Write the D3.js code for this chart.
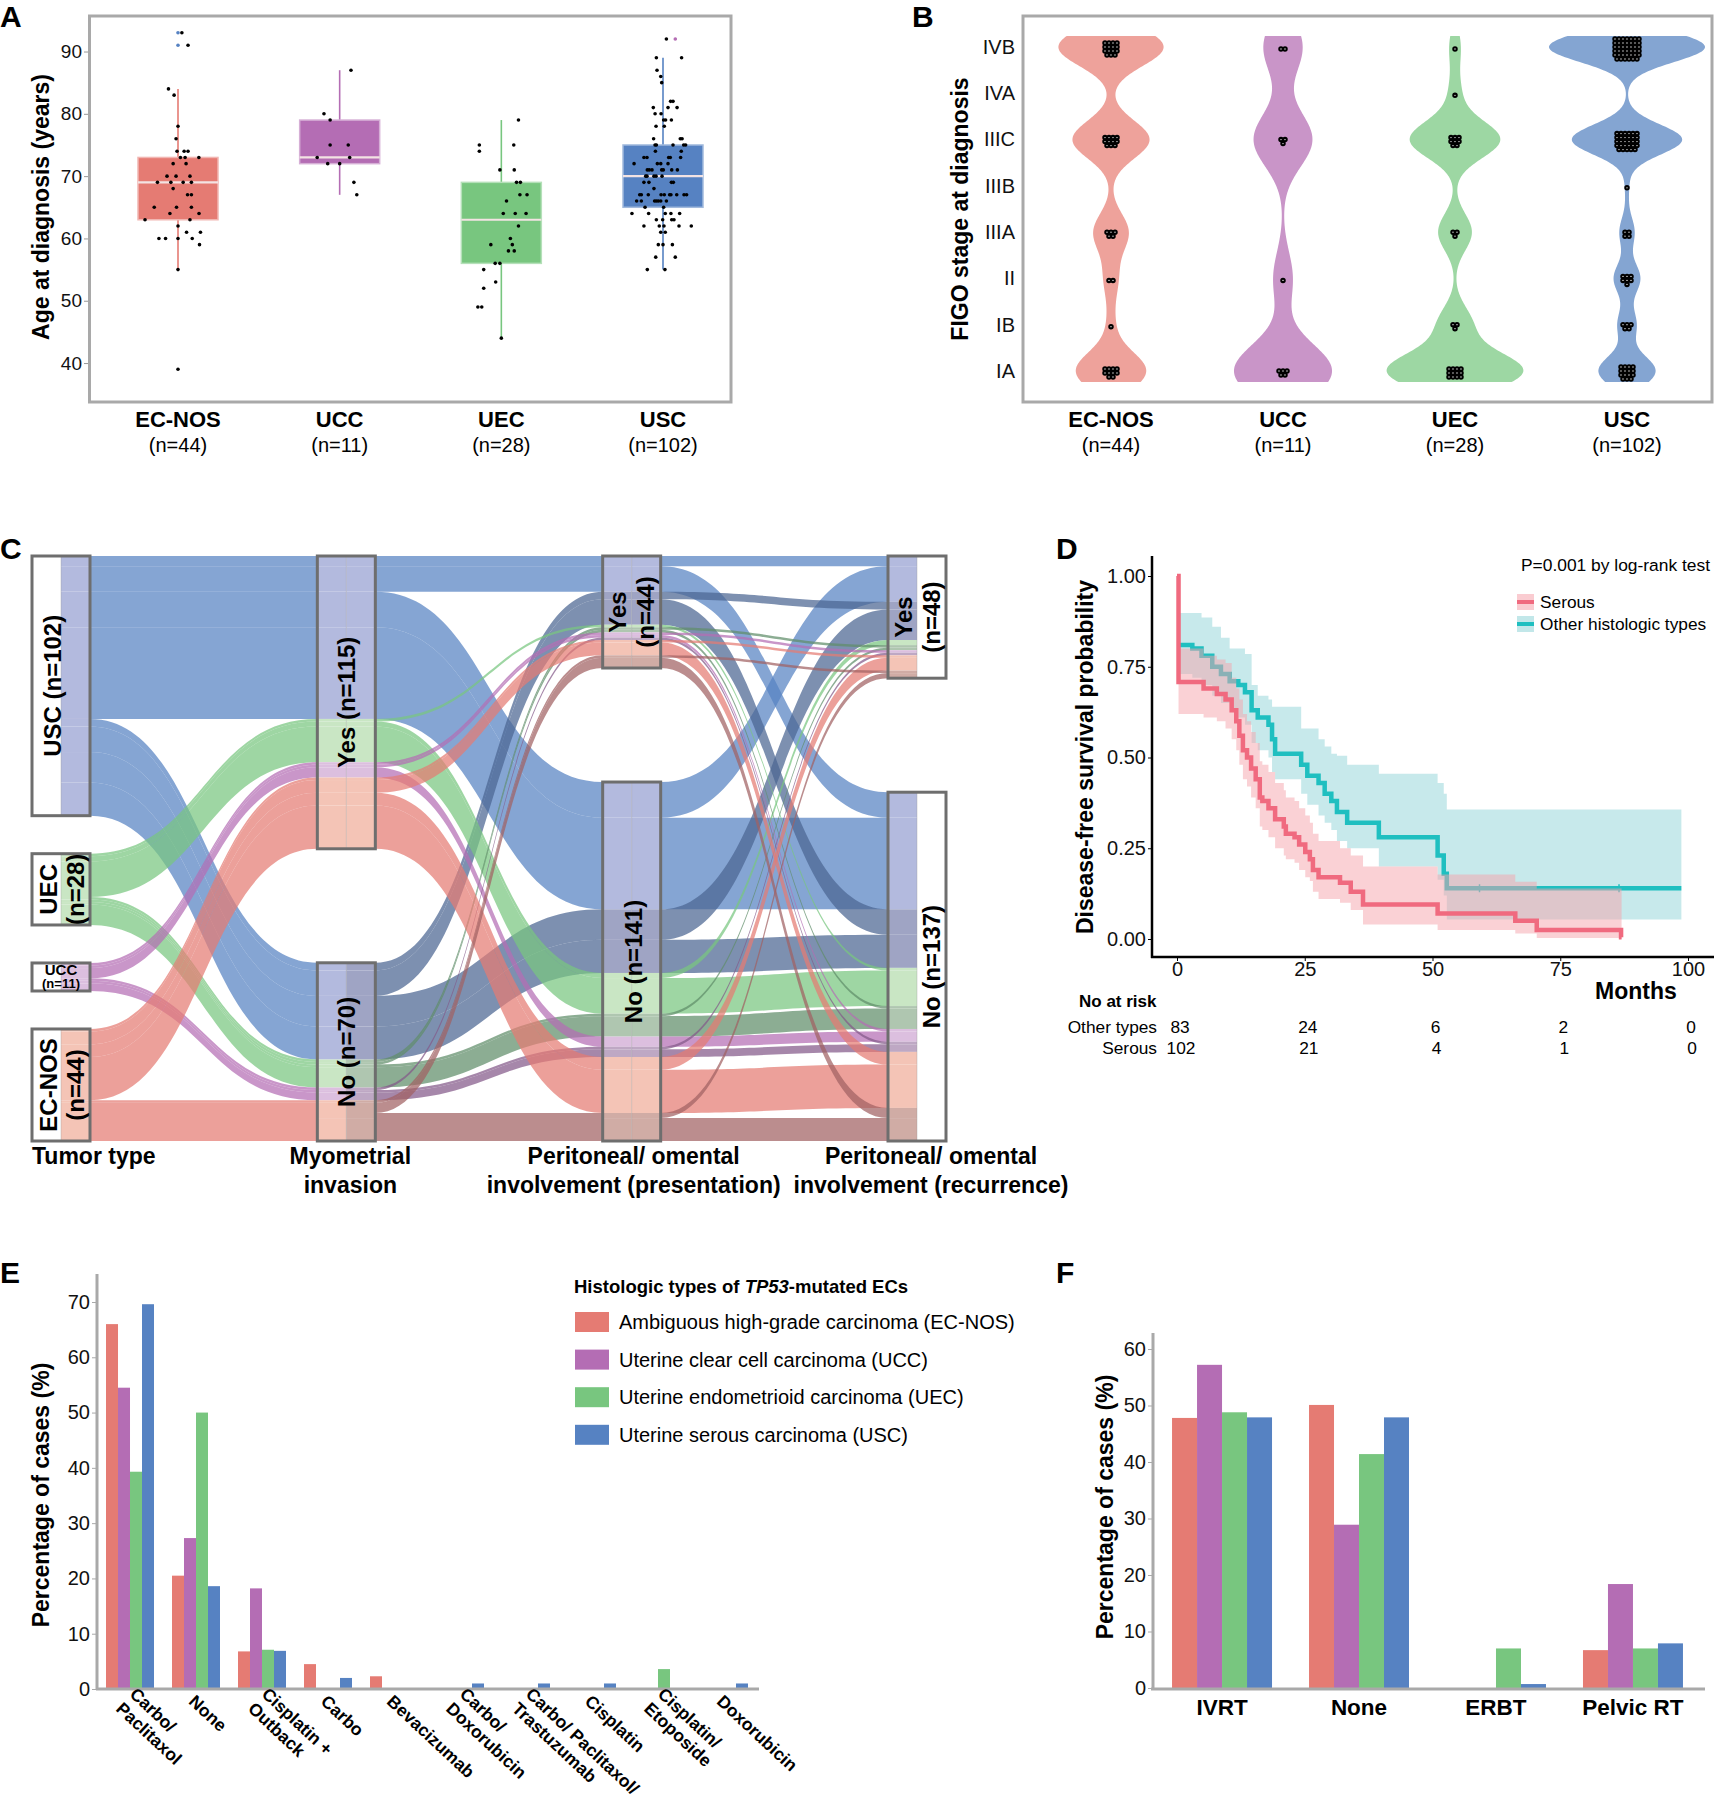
<!DOCTYPE html>
<html>
<head>
<meta charset="utf-8">
<title>TP53-mutated endometrial carcinomas</title>
<script src="https://cdn.jsdelivr.net/npm/d3@7/dist/d3.min.js"></script>
<style>
  html,body{margin:0;padding:0;background:#fff;}
  svg text{font-family:"Liberation Sans",Arial,Helvetica,sans-serif;}
</style>
</head>
<body>
<svg id="fig" width="1714" height="1800" xmlns="http://www.w3.org/2000/svg"></svg>
<script>
// ================= DATA =================
const tumorTypes = ["EC-NOS","UCC","UEC","USC"];
const tumorN = [44,11,28,102];

// ---- Panel A: age at diagnosis ----
const ageTicks = [40,50,60,70,80,90];
// [lower whisker, Q1, median, Q3, upper whisker]
const ageBoxStats = [[55,63,69,73,84],[67,72,73,79,87],[44,56,63,69,79],[55,65,70,75,89]];
// [age, horizontal jitter in category units]
const agePointsECNOS = [[93,0.024],[91,0.062],[84,-0.059],[83,-0.024],[78,0],[76,-0.012],[74,-0.006],[74,0.038],[74,0.062],[73,0.015],[73,0.044],[73,0.129],[72,-0.03],[72,0.05],[70,-0.068],[70,-0.012],[70,0.074],[69,-0.127],[69,-0.044],[69,0.032],[69,0.083],[68,-0.03],[67,0.059],[67,0.083],[65,-0.147],[65,-0.009],[65,0.083],[64,-0.05],[64,0.13],[63,-0.204],[63,0.074],[62,0],[61,0.053],[61,0.139],[60,-0.118],[60,-0.077],[60,0],[60,0.088],[59,0.133],[55,0],[39,0]];
const agePointsUCC = [[87,0.07],[80,-0.097],[79,-0.059],[75,-0.059],[75,0.053],[73,-0.139],[73,0.062],[72,-0.074],[72,0],[69,0.088],[67,0.106]];
const agePointsUEC = [[79,0.106],[75,-0.136],[75,0.077],[74,-0.136],[71,-0.009],[71,0.08],[69,0.094],[69,0.118],[67,0.115],[67,0.159],[66,0.032],[64,0.012],[64,0.086],[64,0.153],[62,0.106],[60,0.056],[59,-0.065],[59,0.068],[58,0.044],[58,0.08],[56,-0.038],[56,-0.009],[55,-0.109],[53,-0.035],[52,-0.109],[49,-0.145],[49,-0.121],[44,0]];
const agePointsUSC = [[92,0.021],[89,-0.041],[89,0.115],[87,-0.037],[86,-0.014],[85,-0.008],[82,0.047],[82,0.062],[81,-0.06],[81,0.031],[81,0.087],[80,-0.049],[80,-0.012],[79,0.004],[79,0.016],[79,0.052],[78,-0.043],[78,0.008],[76,-0.058],[76,0.107],[76,0.118],[75,-0.049],[75,-0.041],[75,0.062],[75,0.128],[75,0.14],[74,-0.047],[74,0.113],[73,-0.118],[73,-0.099],[73,0.035],[73,0.045],[73,0.109],[72,-0.179],[72,-0.035],[72,-0.014],[72,0.031],[71,-0.097],[71,-0.085],[71,-0.068],[71,-0.008],[71,0.002],[71,0.054],[71,0.089],[70,-0.107],[70,-0.099],[70,-0.056],[70,-0.043],[70,-0.006],[69,-0.118],[69,-0.087],[69,0.052],[69,0.064],[68,-0.056],[67,-0.144],[67,-0.134],[67,-0.091],[67,-0.012],[67,0.008],[67,0.041],[67,0.049],[67,0.085],[67,0.13],[67,0.146],[66,-0.163],[66,-0.134],[66,-0.052],[66,-0.041],[66,-0.029],[66,-0.014],[66,0.021],[65,-0.111],[65,0.004],[64,-0.192],[64,-0.089],[64,0.014],[64,0.049],[64,0.103],[63,-0.041],[63,-0.002],[63,0.054],[63,0.068],[62,-0.118],[62,-0.023],[62,0.006],[62,0.099],[62,0.175],[61,-0.014],[61,0.014],[59,-0.029],[59,0],[59,0.058],[57,-0.045],[57,0.076],[55,-0.097],[55,0.012]];
// outlier markers [category index, age, jitter]
const ageOutliers = [[0,93,0],[0,91,0],[3,92,0.076]];
const ageOutlierTypes = ["USC","USC","UCC"];

// ---- Panel B: FIGO stage ----
const figoStages = ["IA","IB","II","IIIA","IIIB","IIIC","IVA","IVB"];
const figoCountsECNOS = [10,1,2,5,0,11,0,15];
const figoCountsUCC   = [5,0,1,0,0,3,0,2];
const figoCountsUEC   = [12,3,0,3,0,8,1,1];
const figoCountsUSC   = [15,5,7,4,1,29,0,41];

// ---- Panel C: alluvial ----
const sankeyTumorOrder = ["USC","UEC","UCC","EC-NOS"];
const yesNo = ["Yes","No"];
const alluvTumor = ["USC","USC","USC","USC","USC","USC","USC","USC","UEC","UEC","UEC","UEC","UEC","UEC","UEC","UEC","UCC","UCC","UCC","UCC","UCC","UCC","UCC","UCC","EC-NOS","EC-NOS","EC-NOS","EC-NOS","EC-NOS","EC-NOS","EC-NOS","EC-NOS"];
const alluvMyo  = ["Yes","Yes","Yes","Yes","No","No","No","No","Yes","Yes","Yes","Yes","No","No","No","No","Yes","Yes","Yes","Yes","No","No","No","No","Yes","Yes","Yes","Yes","No","No","No","No"];
const alluvPres = ["Yes","Yes","No","No","Yes","Yes","No","No","Yes","Yes","No","No","Yes","Yes","No","No","Yes","Yes","No","No","Yes","Yes","No","No","Yes","Yes","No","No","Yes","Yes","No","No"];
const alluvRec  = ["Yes","No","Yes","No","Yes","No","Yes","No","Yes","No","Yes","No","Yes","No","Yes","No","Yes","No","Yes","No","Yes","No","Yes","No","Yes","No","Yes","No","Yes","No","Yes","No"];
const alluvCount = [4,10,14,36,3,10,12,13, 0,1,2,14,1,1,1,8, 1,1,0,4,0,1,1,3, 1,5,5,17,1,4,2,9];
const sankeyAxisTitles = [["Tumor type"],["Myometrial","invasion"],["Peritoneal/ omental","involvement (presentation)"],["Peritoneal/ omental","involvement (recurrence)"]];

// ---- Panel D: Kaplan-Meier ----
const serousTime  = [0,0.3,5.2,7.8,9.5,10.7,11.6,12.2,12.9,13.7,14.5,15.4,16.2,16.7,17.9,19.2,20.9,21.3,23.0,23.9,25.1,26.0,26.6,27.7,31.9,34.0,36.4,51.0,66.2,70.4,86.9];
const serousSurv  = [1.0,0.708,0.69,0.675,0.66,0.63,0.60,0.56,0.52,0.50,0.47,0.44,0.39,0.38,0.36,0.33,0.31,0.29,0.28,0.26,0.24,0.22,0.19,0.17,0.155,0.13,0.095,0.07,0.05,0.025,0.005];
const serousLower = [1.0,0.62,0.61,0.60,0.58,0.55,0.52,0.48,0.44,0.42,0.39,0.36,0.31,0.30,0.28,0.25,0.23,0.22,0.21,0.19,0.17,0.16,0.13,0.11,0.10,0.08,0.04,0.025,0.015,0.003,0.0];
const serousUpper = [1.0,0.80,0.78,0.77,0.76,0.72,0.69,0.66,0.62,0.60,0.57,0.54,0.49,0.48,0.46,0.43,0.41,0.39,0.38,0.36,0.34,0.32,0.29,0.27,0.25,0.23,0.20,0.178,0.158,0.139,0.139];
const serousEnd = 87;
const otherTime  = [0.5,3.0,4.8,6.9,8.6,10.3,12.0,13.3,14.6,15.8,17.9,18.6,19.2,24.3,25.5,27.7,28.9,30.2,31.3,33.3,39.5,51.0,52.2,52.8];
const otherSurv  = [0.81,0.80,0.78,0.75,0.73,0.71,0.70,0.68,0.63,0.61,0.59,0.55,0.51,0.48,0.45,0.43,0.40,0.38,0.35,0.32,0.28,0.23,0.18,0.14];
const otherLower = [0.73,0.72,0.70,0.67,0.65,0.63,0.61,0.59,0.54,0.52,0.50,0.46,0.44,0.40,0.37,0.34,0.32,0.30,0.27,0.25,0.20,0.163,0.12,0.054];
const otherUpper = [0.898,0.898,0.886,0.86,0.83,0.80,0.80,0.785,0.70,0.67,0.66,0.64,0.64,0.58,0.58,0.55,0.53,0.51,0.505,0.48,0.455,0.43,0.40,0.357];
const otherEnd = 98.7;
const otherCensor = [59.2,86.5];
const kmTicksX = [0,25,50,75,100];
const kmTicksY = [0,0.25,0.5,0.75,1];
const riskTimes = [0,25,50,75,100];
const riskOther = [83,24,6,2,0];
const riskSerous = [102,21,4,1,0];

// ---- Panel E: chemotherapy ----
const treatmentLabels = [["Carbo/","Paclitaxol"],["None"],["Cisplatin +","Outback"],["Carbo"],["Bevacizumab"],["Carbo/","Doxorubicin"],["Carbo/ Paclitaxol/","Trastuzumab"],["Cisplatin"],["Cisplatin/","Etoposide"],["Doxorubicin"]];
const chemoECNOS = [66.0,20.5,6.8,4.5,2.3,0,0,0,0,0];
const chemoUCC   = [54.5,27.3,18.2,0,0,0,0,0,0,0];
const chemoUEC   = [39.3,50.0,7.1,0,0,0,0,0,3.6,0];
const chemoUSC   = [69.6,18.6,6.9,2.0,0,1.0,1.0,1.0,0,1.0];
const chemoTicks = [0,10,20,30,40,50,60,70];
const legendNames = ["Ambiguous high-grade carcinoma (EC-NOS)","Uterine clear cell carcinoma (UCC)","Uterine endometrioid carcinoma (UEC)","Uterine serous carcinoma (USC)"];

// ---- Panel F: radiation ----
const radiationTypes = ["IVRT","None","ERBT","Pelvic RT"];
const radECNOS = [47.8,50.1,0,6.7];
const radUCC   = [57.2,28.9,0,18.4];
const radUEC   = [48.8,41.4,7.0,7.0];
const radUSC   = [47.9,47.9,0.7,7.9];
const radTicks = [0,10,20,30,40,50,60];

// ================= STYLE =================
const FONT = '"Liberation Sans",Arial,Helvetica,sans-serif';
const tumorColor = {"EC-NOS":"#e57b73","UCC":"#b46db4","UEC":"#78c67f","USC":"#5682c2"};
const lodeColor  = {"EC-NOS":"#f4c4b6","UCC":"#dcbfdf","UEC":"#c9e6c4","USC":"#b3bade"};
const violinColor = {"EC-NOS":"#eea29b","UCC":"#c995c8","UEC":"#9dd7a3","USC":"#84a5d2"};

const svg = d3.select("#fig");

function styleAxis(g, fs, lineColor){
  g.attr("font-size", fs).attr("font-family", FONT);
  g.selectAll("text").attr("fill","#111");
  g.selectAll("line").attr("stroke", lineColor);
  g.select(".domain").remove();
}
function panelLabel(t,x,y){
  svg.append("text").attr("x",x).attr("y",y).attr("font-size",30).attr("font-weight","bold").attr("fill","#000").text(t);
}
function rotLabel(g,text,x,y,fs,bold){
  g.append("text").attr("transform",`translate(${x},${y}) rotate(-90)`).attr("text-anchor","middle")
   .attr("dominant-baseline","central").attr("font-size",fs).attr("font-weight",bold?"bold":"normal").text(text);
}

// ================= PANEL A =================
(function(){
  const g = svg.append("g");
  const yA = d3.scaleLinear().domain([33.75,95.7]).range([402,16]);
  const xA = d3.scalePoint().domain(tumorTypes).range([178,663]);
  const step = xA.step();
  g.append("rect").attr("x",89.5).attr("y",16).attr("width",641.5).attr("height",386)
   .attr("fill","none").attr("stroke","#a9a9a9").attr("stroke-width",3);
  const ax = g.append("g").attr("transform","translate(88,0)")
    .call(d3.axisLeft(yA).tickValues(ageTicks).tickSize(4).tickPadding(2));
  styleAxis(ax,19,"#999");
  const pts = [agePointsECNOS,agePointsUCC,agePointsUEC,agePointsUSC];
  tumorTypes.forEach((t,i)=>{
    const cx = xA(t), st = ageBoxStats[i], c = tumorColor[t];
    g.append("line").attr("x1",cx).attr("x2",cx).attr("y1",yA(st[0])).attr("y2",yA(st[4]))
     .attr("stroke",c).attr("stroke-width",1.6);
    g.append("rect").attr("x",cx-40).attr("width",80).attr("y",yA(st[3])).attr("height",yA(st[1])-yA(st[3]))
     .attr("fill",c).attr("stroke",d3.interpolateRgb(c,"#fff")(0.45)).attr("stroke-width",1.5);
    g.append("line").attr("x1",cx-40).attr("x2",cx+40).attr("y1",yA(st[2])).attr("y2",yA(st[2]))
     .attr("stroke","#f3e3e3").attr("stroke-width",2.2);
    g.selectAll(null).data(pts[i]).enter().append("circle")
     .attr("cx",d=>cx+d[1]*step).attr("cy",d=>yA(d[0])).attr("r",1.8).attr("fill","#000");
    g.append("text").attr("x",cx).attr("y",427).attr("text-anchor","middle").attr("font-size",22).attr("font-weight","bold").text(t);
    g.append("text").attr("x",cx).attr("y",452).attr("text-anchor","middle").attr("font-size",20).text(`(n=${tumorN[i]})`);
  });
  ageOutliers.forEach((o,j)=>{
    g.append("circle").attr("cx",xA(tumorTypes[o[0]])+o[2]*step).attr("cy",yA(o[1])).attr("r",1.8)
     .attr("fill",tumorColor[ageOutlierTypes[j]]);
  });
  rotLabel(g,"Age at diagnosis (years)",41,207,23,true);
  panelLabel("A",0,27);
})();

// ================= PANEL B =================
(function(){
  const g = svg.append("g");
  const yB = d3.scaleLinear().domain([0,7]).range([371,47]);
  const xB = d3.scalePoint().domain(tumorTypes).range([1111,1627]);
  g.append("rect").attr("x",1023).attr("y",16).attr("width",689).attr("height",386)
   .attr("fill","none").attr("stroke","#a9a9a9").attr("stroke-width",3);
  const ax = g.append("g").attr("transform","translate(1023,0)")
    .call(d3.axisLeft(yB).tickValues(d3.range(8)).tickFormat(i=>figoStages[i]).tickSize(0).tickPadding(8));
  styleAxis(ax,20,"#999");
  const counts = [figoCountsECNOS,figoCountsUCC,figoCountsUEC,figoCountsUSC];
  const grid = d3.range(-0.24,7.2401,0.02);
  const dens = counts.map(cnt=>{
    const vals = [];
    cnt.forEach((c,i)=>{ for(let k=0;k<c;k++) vals.push(i); });
    const n = vals.length;
    const sorted = vals.slice().sort(d3.ascending);
    const iqr = d3.quantile(sorted,0.75)-d3.quantile(sorted,0.25);
    const sd = d3.deviation(vals);
    const h = 0.9*Math.min(sd, iqr/1.34)*Math.pow(n,-0.2)*0.35;
    return grid.map(y=>[y, d3.sum(vals,v=>Math.exp(-0.5*((y-v)/h)**2))/(n*h*Math.sqrt(2*Math.PI))]);
  });
  const maxD = d3.max(dens, d=>d3.max(d,e=>e[1]));
  const wScale = d3.scaleLinear().domain([0,maxD]).range([0,78]);
  tumorTypes.forEach((t,i)=>{
    const cx = xB(t);
    const area = d3.area().x0(d=>cx-wScale(d[1])).x1(d=>cx+wScale(d[1])).y(d=>yB(d[0])).curve(d3.curveLinear);
    g.append("path").attr("d",area(dens[i])).attr("fill",violinColor[t]);
    // dot clusters
    const sp = 4.0;
    counts[i].forEach((c,si)=>{
      if(!c) return;
      const cols = Math.ceil(Math.sqrt(c)), rows = Math.ceil(c/cols);
      for(let k=0;k<c;k++){
        const r = Math.floor(k/cols);
        const inRow = (r===rows-1) ? c-r*cols : cols;
        const col = k - r*cols;
        const x = cx + (col-(inRow-1)/2)*sp;
        const y = yB(si) + (r-(rows-1)/2)*sp + 2;
        g.append("circle").attr("cx",x).attr("cy",y).attr("r",1.7).attr("fill","#fff").attr("stroke","#000").attr("stroke-width",2.1);
      }
    });
    g.append("text").attr("x",cx).attr("y",427).attr("text-anchor","middle").attr("font-size",22).attr("font-weight","bold").text(t);
    g.append("text").attr("x",cx).attr("y",452).attr("text-anchor","middle").attr("font-size",20).text(`(n=${tumorN[i]})`);
  });
  rotLabel(g,"FIGO stage at diagnosis",960,209,23,true);
  panelLabel("B",912,27);
})();

// ================= PANEL C =================
(function(){
  const g = svg.append("g");
  const axes = [alluvTumor, alluvMyo, alluvPres, alluvRec];
  const strata = [sankeyTumorOrder, yesNo, yesNo, yesNo];
  const axisX = d3.scalePoint().domain([0,1,2,3]).range([61,917]);
  const hw = 29, cTop = 556, cBot = 1141, totalGap = 114;
  const N = d3.sum(alluvCount);
  const hScale = d3.scaleLinear().domain([0,N]).range([0,cBot-cTop-totalGap]);
  const idx = d3.range(alluvCount.length).filter(i=>alluvCount[i]>0);
  const pos = idx.map(()=>[]);
  const strataPos = [];
  axes.forEach((vals,j)=>{
    const gap = totalGap/(strata[j].length-1);
    let y = cTop; strataPos[j] = [];
    strata[j].forEach(s=>{
      const y0 = y;
      idx.forEach((a,ii)=>{ if(vals[a]===s){ const h = hScale(alluvCount[a]); pos[ii][j]=[y,y+h]; y+=h; } });
      strataPos[j].push({name:s, y0:y0, y1:y, n: d3.sum(idx.filter(a=>vals[a]===s), a=>alluvCount[a])});
      y += gap;
    });
  });
  const dark = c=>d3.interpolateRgb(c,"#3a3a48")(0.4);
  const lodeDark = c=>d3.interpolateRgb(c,"#5e6070")(0.24);
  // flows
  for(let j=0;j<3;j++){
    const x0 = axisX(j)+hw, x1 = axisX(j+1)-hw, xm=(x0+x1)/2;
    idx.forEach((a,ii)=>{
      const [t0,b0] = pos[ii][j], [t1,b1] = pos[ii][j+1];
      const p = d3.path();
      p.moveTo(x0,t0); p.bezierCurveTo(xm,t0,xm,t1,x1,t1); p.lineTo(x1,b1);
      p.bezierCurveTo(xm,b1,xm,b0,x0,b0); p.closePath();
      const base = tumorColor[alluvTumor[a]];
      const col = (j>=1 && alluvMyo[a]==="No") ? dark(base) : base;
      g.append("path").attr("d",p.toString()).attr("fill",col).attr("fill-opacity",0.72);
    });
  }
  // strata boxes
  axes.forEach((vals,j)=>{
    const cx = axisX(j);
    idx.forEach((a,ii)=>{
      const [y0,y1] = pos[ii][j];
      const lc = lodeColor[alluvTumor[a]];
      const isNo = alluvMyo[a]==="No";
      g.append("rect").attr("x",cx-hw).attr("y",y0).attr("width",hw).attr("height",y1-y0)
        .attr("fill", j===0 ? "#fff" : ((j>=2 && isNo) ? lodeDark(lc) : lc));
      g.append("rect").attr("x",cx).attr("y",y0).attr("width",hw).attr("height",y1-y0)
        .attr("fill", j===3 ? "#fff" : ((j>=1 && isNo) ? lodeDark(lc) : lc));
    });
    strataPos[j].forEach(s=>{
      g.append("line").attr("x1",cx).attr("x2",cx).attr("y1",s.y0).attr("y2",s.y1).attr("stroke","#999").attr("stroke-opacity",0.35).attr("stroke-width",1);
      g.append("rect").attr("x",cx-hw).attr("y",s.y0).attr("width",2*hw).attr("height",s.y1-s.y0)
        .attr("fill","none").attr("stroke","#6e6e6e").attr("stroke-width",3);
      const yc = (s.y0+s.y1)/2;
      const label = `${s.name} (n=${s.n})`;
      if(j===0){
        if(s.name==="USC") rotLabel(g,label,cx-9,yc,24,true);
        else if(s.name==="UCC"){
          g.append("text").attr("x",cx).attr("y",yc-2).attr("text-anchor","middle").attr("font-size",15).attr("font-weight","bold").text(s.name);
          g.append("text").attr("x",cx).attr("y",yc+11).attr("text-anchor","middle").attr("font-size",13).attr("font-weight","bold").text(`(n=${s.n})`);
        } else {
          rotLabel(g,s.name,cx-13,yc,24,true);
          rotLabel(g,`(n=${s.n})`,cx+14,yc,24,true);
        }
      } else if(j===1){
        rotLabel(g,label,cx,yc,24,true);
      } else {
        if(s.name==="Yes"){ rotLabel(g,s.name,cx-14,yc,24,true); rotLabel(g,`(n=${s.n})`,cx+14,yc,24,true); }
        else rotLabel(g,label,cx+(j===3?14:2),yc,24,true);
      }
    });
  });
  // axis titles
  sankeyAxisTitles.forEach((lines,j)=>{
    lines.forEach((ln,k)=>{
      const t = g.append("text").attr("y",1164+k*29).attr("font-size",23).attr("font-weight","bold").text(ln);
      if(j===0) t.attr("x",axisX(0)-29).attr("text-anchor","start");
      else t.attr("x",axisX(j)+(j===1?4:(j===2?2:14))).attr("text-anchor","middle");
    });
  });
  panelLabel("C",0,559);
})();

// ================= PANEL D =================
(function(){
  const g = svg.append("g");
  const xD = d3.scaleLinear().domain([0,100]).range([1177,1688]);
  const yD = d3.scaleLinear().domain([0,1]).range([939,576]);
  const mk = (T,S,L,U,end)=>{ const a = T.map((t,i)=>({t:t,s:S[i],lo:L[i],hi:U[i]})); const last=a[a.length-1]; a.push({t:end,s:last.s,lo:last.lo,hi:last.hi}); return a; };
  const serous = mk(serousTime,serousSurv,serousLower,serousUpper,serousEnd);
  const other = mk(otherTime,otherSurv,otherLower,otherUpper,otherEnd);
  const band = d3.area().x(d=>xD(d.t)).y0(d=>yD(d.lo)).y1(d=>yD(d.hi)).curve(d3.curveStepAfter);
  const line = d3.line().x(d=>xD(d.t)).y(d=>yD(d.s)).curve(d3.curveStepAfter);
  const teal = "#1fbfc0", red = "#f06a7f";
  g.append("path").attr("d",band(other)).attr("fill","#8fd4d7").attr("fill-opacity",0.5);
  g.append("path").attr("d",line(other)).attr("fill","none").attr("stroke",teal).attr("stroke-width",4.5);
  otherCensor.forEach(t=>{
    const d = other.filter(e=>e.t<=t).pop();
    g.append("path").attr("d",`M${xD(t)-4},${yD(d.s)}h8M${xD(t)},${yD(d.s)-4}v8`).attr("stroke",teal).attr("stroke-width",1.5);
  });
  g.append("path").attr("d",band(serous)).attr("fill","#f5a3ac").attr("fill-opacity",0.5);
  g.append("path").attr("d",line(serous)).attr("fill","none").attr("stroke",red).attr("stroke-width",4.5);
  // axes
  g.append("line").attr("x1",1152).attr("x2",1152).attr("y1",556).attr("y2",958).attr("stroke","#000").attr("stroke-width",2.5);
  g.append("line").attr("x1",1151).attr("x2",1714).attr("y1",957).attr("y2",957).attr("stroke","#000").attr("stroke-width",2.5);
  const ay = g.append("g").attr("transform","translate(1152,0)").call(d3.axisLeft(yD).tickValues(kmTicksY).tickFormat(d3.format(".2f")).tickSize(4).tickPadding(2));
  styleAxis(ay,20,"#000");
  const axx = g.append("g").attr("transform","translate(0,957)").call(d3.axisBottom(xD).tickValues(kmTicksX).tickSize(4).tickPadding(1));
  styleAxis(axx,20,"#000");
  rotLabel(g,"Disease-free survival probability",1085,757,23,true);
  g.append("text").attr("x",1636).attr("y",999).attr("text-anchor","middle").attr("font-size",23).attr("font-weight","bold").text("Months");
  g.append("text").attr("x",1710).attr("y",571).attr("text-anchor","end").attr("font-size",17.4).text("P=0.001 by log-rank test");
  // legend
  [["Serous","#f5a3ac",red,602],["Other histologic types","#8fd4d7",teal,624]].forEach(l=>{
    g.append("rect").attr("x",1517).attr("y",l[3]-8).attr("width",17).attr("height",16).attr("fill",l[1]).attr("fill-opacity",0.55);
    g.append("line").attr("x1",1517).attr("x2",1534).attr("y1",l[3]).attr("y2",l[3]).attr("stroke",l[2]).attr("stroke-width",4);
    g.append("text").attr("x",1540).attr("y",l[3]+6).attr("font-size",17.3).text(l[0]);
  });
  // risk table
  g.append("text").attr("x",1079).attr("y",1007).attr("font-size",17).attr("font-weight","bold").text("No at risk");
  g.append("text").attr("x",1157).attr("y",1033).attr("text-anchor","end").attr("font-size",17.3).text("Other types");
  g.append("text").attr("x",1157).attr("y",1054).attr("text-anchor","end").attr("font-size",17.3).text("Serous");
  riskTimes.forEach((t,i)=>{
    g.append("text").attr("x",xD(t)+3).attr("y",1033).attr("text-anchor","middle").attr("font-size",17.3).text(riskOther[i]);
    g.append("text").attr("x",xD(t)+4).attr("y",1054).attr("text-anchor","middle").attr("font-size",17.3).text(riskSerous[i]);
  });
  panelLabel("D",1056,559);
})();

// ================= PANEL E =================
(function(){
  const g = svg.append("g");
  const cats = d3.range(treatmentLabels.length);
  const xE = d3.scaleBand().domain(cats).range([97,757]).paddingInner(18/66).paddingOuter(0.1364);
  const xSub = d3.scaleBand().domain(tumorTypes).range([0,xE.bandwidth()]);
  const yE = d3.scaleLinear().domain([0,70]).range([1689,1302]);
  const series = [chemoECNOS,chemoUCC,chemoUEC,chemoUSC];
  tumorTypes.forEach((t,si)=>{
    g.selectAll(null).data(cats.filter(c=>series[si][c]>0)).enter().append("rect")
     .attr("x",c=>xE(c)+xSub(t)).attr("width",xSub.bandwidth()).attr("y",c=>yE(series[si][c]))
     .attr("height",c=>yE(0)-yE(series[si][c])).attr("fill",tumorColor[t]);
  });
  g.append("line").attr("x1",97).attr("x2",97).attr("y1",1274).attr("y2",1690).attr("stroke","#a9a9a9").attr("stroke-width",3);
  g.append("line").attr("x1",96).attr("x2",759).attr("y1",1689).attr("y2",1689).attr("stroke","#a9a9a9").attr("stroke-width",3);
  const ay = g.append("g").attr("transform","translate(96,0)").call(d3.axisLeft(yE).tickValues(chemoTicks).tickSize(4).tickPadding(2));
  styleAxis(ay,20,"#a9a9a9");
  cats.forEach(c=>{
    const cx = xE(c)+xE.bandwidth()/2;
    const lines = treatmentLabels[c];
    const t = g.append("text").attr("transform",`translate(${cx},1694) rotate(43)`).attr("font-size",17.5).attr("font-weight","bold");
    lines.forEach((ln,k)=>{
      t.append("tspan").attr("x",0).attr("y",(k-(lines.length-1)/2)*20+12).text(ln);
    });
  });
  rotLabel(g,"Percentage of cases (%)",41,1495,23,true);
  // legend
  const lt = g.append("text").attr("x",574).attr("y",1293).attr("font-size",18.5).attr("font-weight","bold");
  lt.append("tspan").text("Histologic types of ");
  lt.append("tspan").attr("font-style","italic").text("TP53");
  lt.append("tspan").text("-mutated ECs");
  tumorTypes.forEach((t,i)=>{
    const yc = 1322 + i*37.6;
    g.append("rect").attr("x",575).attr("y",yc-10).attr("width",34).attr("height",20).attr("fill",tumorColor[t]);
    g.append("text").attr("x",619).attr("y",yc+7).attr("font-size",20).text(legendNames[i]);
  });
  panelLabel("E",0,1283);
})();

// ================= PANEL F =================
(function(){
  const g = svg.append("g");
  const xF = d3.scaleBand().domain(radiationTypes).range([1153,1702]).paddingInner(37/137).paddingOuter(0.139);
  const xSub = d3.scaleBand().domain(tumorTypes).range([0,xF.bandwidth()]);
  const yF = d3.scaleLinear().domain([0,60]).range([1688,1349]);
  const series = [radECNOS,radUCC,radUEC,radUSC];
  tumorTypes.forEach((t,si)=>{
    g.selectAll(null).data(radiationTypes.filter((r,ri)=>series[si][ri]>0)).enter().append("rect")
     .attr("x",r=>xF(r)+xSub(t)).attr("width",xSub.bandwidth())
     .attr("y",r=>yF(series[si][radiationTypes.indexOf(r)]))
     .attr("height",r=>yF(0)-yF(series[si][radiationTypes.indexOf(r)])).attr("fill",tumorColor[t]);
  });
  g.append("line").attr("x1",1153).attr("x2",1153).attr("y1",1333).attr("y2",1690).attr("stroke","#a9a9a9").attr("stroke-width",3);
  g.append("line").attr("x1",1151).attr("x2",1705).attr("y1",1689).attr("y2",1689).attr("stroke","#a9a9a9").attr("stroke-width",3);
  const ay = g.append("g").attr("transform","translate(1152,0)").call(d3.axisLeft(yF).tickValues(radTicks).tickSize(4).tickPadding(2));
  styleAxis(ay,20,"#a9a9a9");
  radiationTypes.forEach(r=>{
    g.append("text").attr("x",xF(r)+xF.bandwidth()/2).attr("y",1715).attr("text-anchor","middle")
     .attr("font-size",22.5).attr("font-weight","bold").text(r);
  });
  rotLabel(g,"Percentage of cases (%)",1105,1507,23,true);
  panelLabel("F",1056,1283);
})();
</script>
</body>
</html>
